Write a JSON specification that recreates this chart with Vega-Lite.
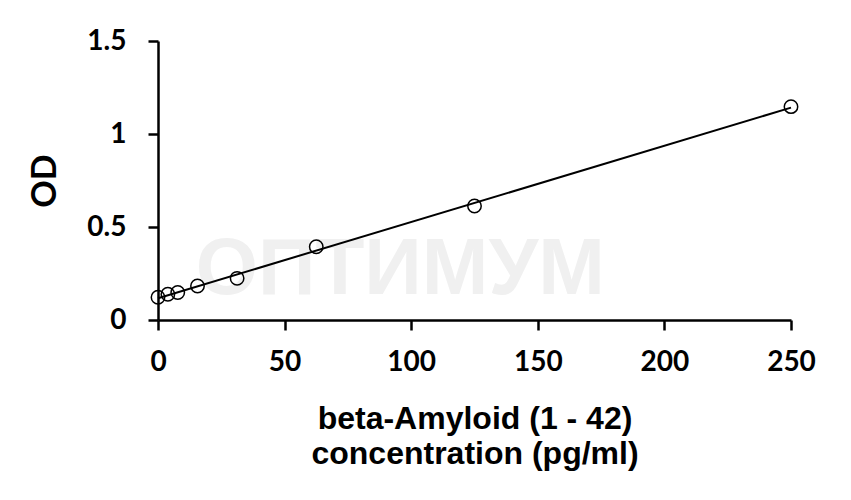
{
  "$schema": "https://vega.github.io/schema/vega-lite/v6.json",
  "width": 633,
  "height": 279,
  "autosize": {"type": "none"},
  "padding": {"left": 158, "top": 41, "right": 60, "bottom": 180},
  "background": "white",
  "datasets": {
    "standards": [
      {"conc": 0, "od": 0.122},
      {"conc": 3.9, "od": 0.138},
      {"conc": 7.8, "od": 0.148},
      {"conc": 15.6, "od": 0.183},
      {"conc": 31.25, "od": 0.224},
      {"conc": 62.5, "od": 0.394},
      {"conc": 125, "od": 0.613},
      {"conc": 250, "od": 1.147}
    ],
    "mark": [{"conc": 95.7, "od": 0.269, "label": "ОПТИМУМ"}]
  },
  "layer": [
    {
      "data": {"name": "mark"},
      "mark": {
        "type": "text",
        "font": "Liberation Sans",
        "fontWeight": "bold",
        "fontSize": 80,
        "color": "#f0f0f0",
        "baseline": "middle",
        "align": "center"
      },
      "encoding": {
        "x": {"field": "conc", "type": "quantitative"},
        "y": {"field": "od", "type": "quantitative"},
        "text": {"field": "label"}
      }
    },
    {
      "data": {"name": "standards"},
      "transform": [
        {"regression": "od", "on": "conc", "extent": [0, 250]}
      ],
      "mark": {"type": "line", "color": "black", "strokeWidth": 2},
      "encoding": {
        "x": {"field": "conc", "type": "quantitative"},
        "y": {"field": "od", "type": "quantitative"}
      }
    },
    {
      "data": {"name": "standards"},
      "mark": {
        "type": "point",
        "shape": "circle",
        "size": 180,
        "filled": false,
        "stroke": "black",
        "strokeWidth": 1.5,
        "opacity": 1
      },
      "encoding": {
        "x": {
          "field": "conc",
          "type": "quantitative",
          "scale": {"domain": [0, 250], "nice": false},
          "axis": {
            "values": [0, 50, 100, 150, 200, 250],
            "title": ["beta-Amyloid (1 - 42)", "concentration (pg/ml)"],
            "titleFont": "Liberation Sans",
            "titleFontSize": 32,
            "titlePadding": 27,
            "titleLineHeight": 35,
            "labelPadding": 18
          }
        },
        "y": {
          "field": "od",
          "type": "quantitative",
          "scale": {"domain": [0, 1.5], "nice": false},
          "axis": {
            "values": [0, 0.5, 1, 1.5],
            "format": ".2~f",
            "title": "OD",
            "titleFont": "Lato",
            "titleFontSize": 34,
            "titlePadding": 24,
            "labelPadding": 22
          }
        }
      }
    }
  ],
  "config": {
    "view": {"stroke": null},
    "axis": {
      "grid": false,
      "labelFlush": false,
      "domainColor": "black",
      "domainWidth": 2.5,
      "tickColor": "black",
      "tickWidth": 2.5,
      "tickSize": 10,
      "labelFont": "Lato",
      "labelFontSize": 28,
      "labelFontWeight": "bold",
      "labelColor": "black",
      "titleFontWeight": "bold",
      "titleColor": "black"
    }
  }
}
